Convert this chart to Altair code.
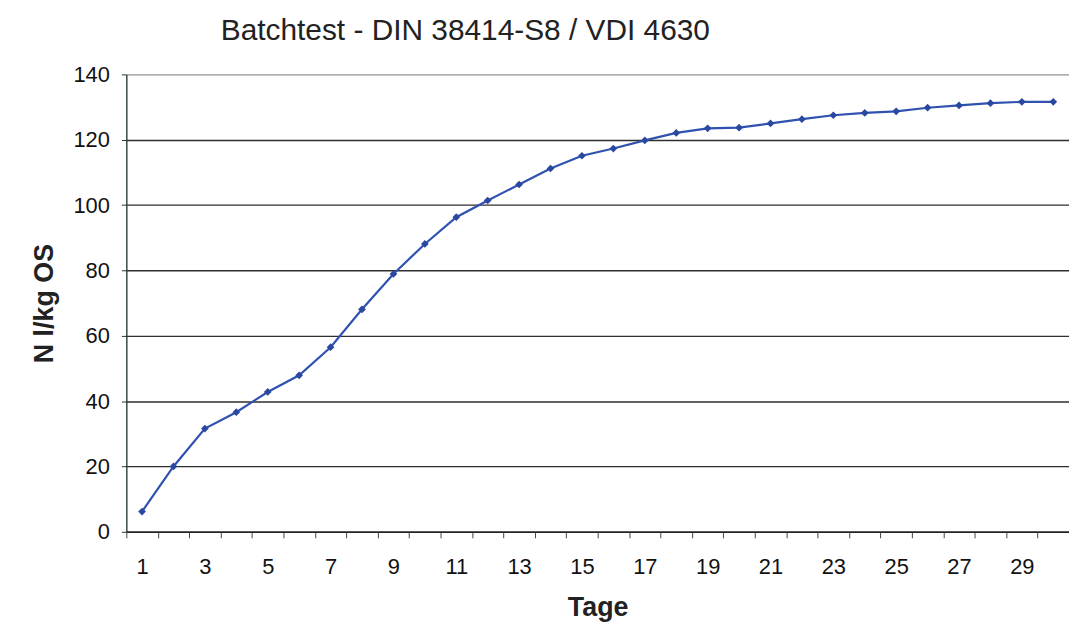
import altair as alt
import pandas as pd

# ---- data ----
days = list(range(1, 31))
values = [6.2, 20.0, 31.6, 36.6, 42.8, 47.9, 56.5, 68.1, 78.9, 88.1,
          96.3, 101.4, 106.3, 111.2, 115.1, 117.3, 119.8, 122.1, 123.5, 123.7,
          125.0, 126.3, 127.5, 128.2, 128.7, 129.8, 130.5, 131.2, 131.6, 131.6]
x_labels = list(range(1, 30, 2))
y_ticks = list(range(0, 141, 20))
title_text = "Batchtest - DIN 38414-S8 / VDI 4630"
x_title = "Tage"
y_title = "N l/kg OS"

df = pd.DataFrame({"Tage": days, "Wert": values})
tick_bounds = [d - 0.5 for d in days] + [days[-1] + 0.5]

FONT = "Liberation Sans"
x_scale = alt.Scale(domain=[0.5, 30.5], nice=False, zero=False)
y_scale = alt.Scale(domain=[0, 140], nice=False)

line = alt.Chart(df).mark_line(color="#2f52b0", strokeWidth=2.2).encode(
    x=alt.X("Tage:Q", scale=x_scale,
            axis=alt.Axis(orient="bottom", values=x_labels, ticks=False, grid=False,
                          title=x_title, titleFont=FONT, titleFontSize=27,
                          titleFontWeight="bold", titleColor="#222222",
                          titlePadding=17,
                          labelFont=FONT, labelFontSize=22, labelColor="#111111",
                          labelPadding=25, labelFlush=False,
                          domainColor="#222222", domainWidth=1.5)),
    y=alt.Y("Wert:Q", scale=y_scale,
            axis=alt.Axis(values=y_ticks, grid=True,
                          gridColor=alt.condition("datum.value == 140",
                                                  alt.value("#9a9a9a"),
                                                  alt.value("#2e2e2e")),
                          gridWidth=1.4,
                          tickSize=5, tickColor="#333333",
                          title=y_title, titleFont=FONT, titleFontSize=27,
                          titleFontWeight="bold", titleColor="#222222",
                          titlePadding=15,
                          labelFont=FONT, labelFontSize=22, labelColor="#111111",
                          labelPadding=12,
                          domainColor="#1f3535", domainWidth=1.3)),
)

points = alt.Chart(df).mark_point(shape="diamond", filled=True, size=60,
                                  color="#2a48a0", opacity=1).encode(
    x=alt.X("Tage:Q", scale=x_scale,
            axis=alt.Axis(orient="bottom", values=tick_bounds, labels=False,
                          ticks=True, tickSize=6, tickColor="#444444",
                          grid=False, title=None, domain=False)),
    y=alt.Y("Wert:Q", scale=y_scale),
)

chart = alt.layer(line, points).resolve_axis(x="independent").properties(
    width=948,
    height=460,
    autosize=alt.AutoSizeParams(type="none"),
    padding={"left": 119, "top": 65, "right": 0, "bottom": 100},
    title=alt.TitleParams(title_text, anchor="start", frame="group", dx=95,
                          offset=-6, baseline="alphabetic", font=FONT,
                          fontSize=30, fontWeight="normal", color="#222222"),
).configure_view(stroke=None).configure(background="white")

chart.save("out.html", embed_options={"renderer": "svg", "actions": False})
